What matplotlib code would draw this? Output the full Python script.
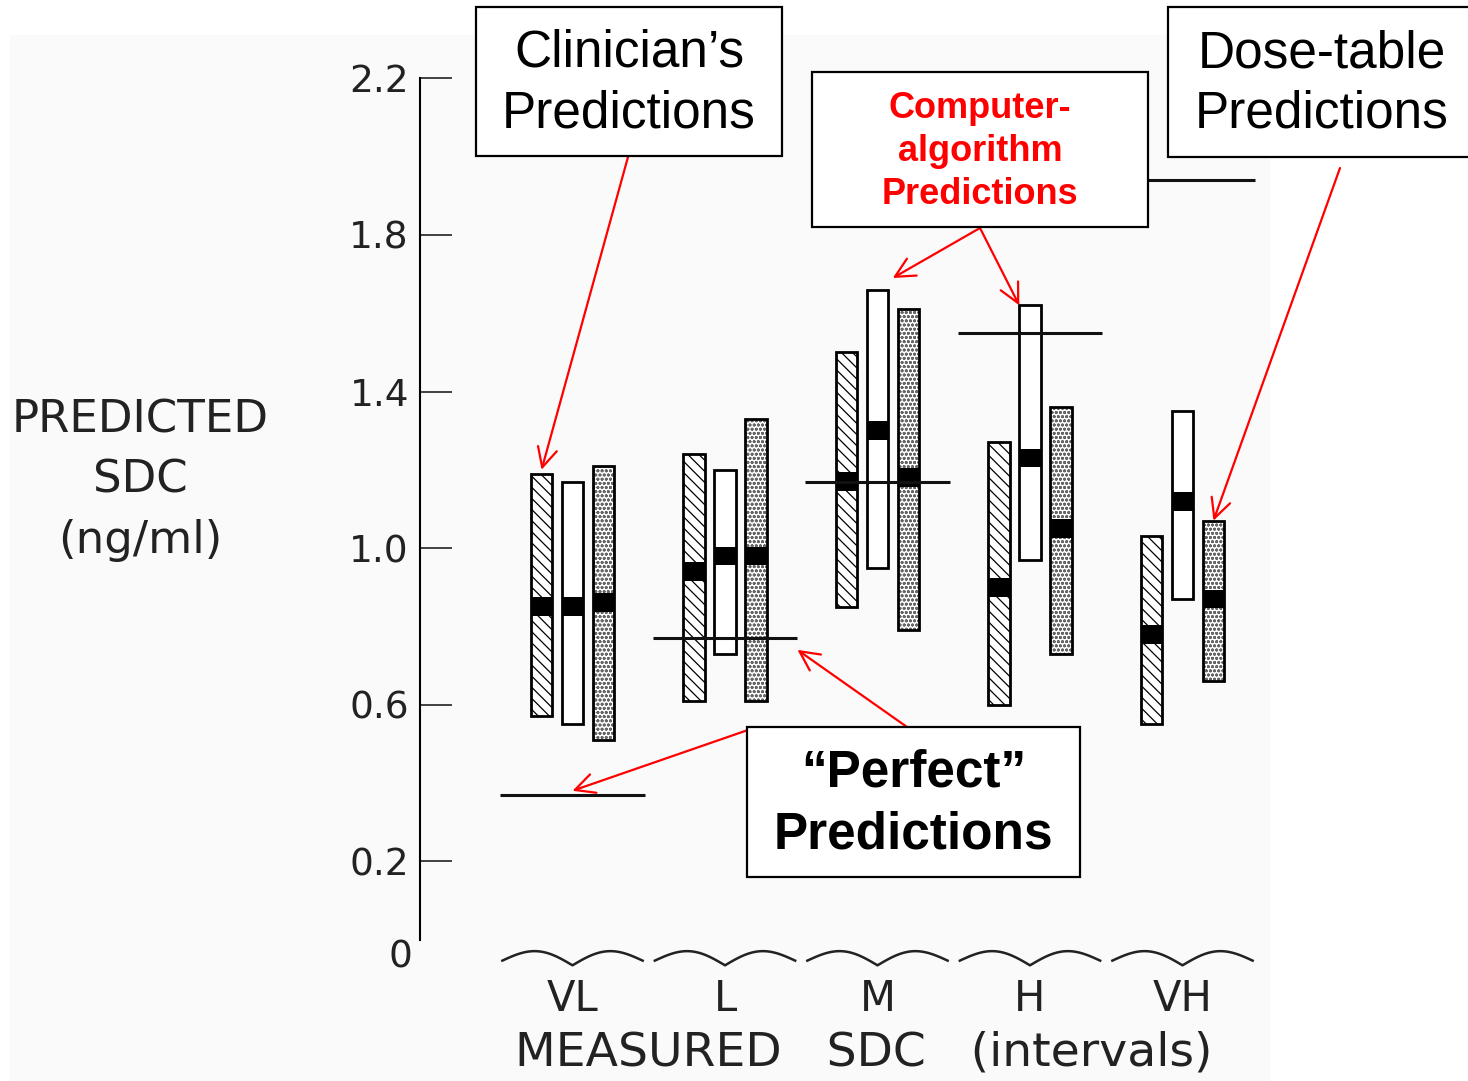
import numpy as np
import matplotlib.pyplot as plt
from matplotlib.patches import Rectangle

groups = ['VL', 'L', 'M', 'H', 'VH']

# clinician's predictions (hatched bars)
clin_low = [0.57, 0.61, 0.85, 0.60, 0.55]
clin_high = [1.19, 1.24, 1.50, 1.27, 1.03]
clin_mid = [0.85, 0.94, 1.17, 0.90, 0.78]

# computer-algorithm predictions (open bars)
comp_low = [0.55, 0.73, 0.95, 0.97, 0.87]
comp_high = [1.17, 1.20, 1.66, 1.62, 1.35]
comp_mid = [0.85, 0.98, 1.30, 1.23, 1.12]

# dose-table predictions (dotted bars)
dose_low = [0.51, 0.61, 0.79, 0.73, 0.66]
dose_high = [1.21, 1.33, 1.61, 1.36, 1.07]
dose_mid = [0.86, 0.98, 1.18, 1.05, 0.87]

# "perfect" prediction level for each measured interval
perfect = [0.37, 0.77, 1.17, 1.55, 1.94]

yticks = [0.2, 0.6, 1.0, 1.4, 1.8, 2.2]

W, H = 1468, 1081
plt.rcParams['hatch.linewidth'] = 0.9
fig = plt.figure(figsize=(W / 100, H / 100), dpi=100)


def fx(px):
    return px / W


def fy(py):
    return 1 - py / H


# faint tint of the scanned page
fig.patches.append(Rectangle((fx(10), 0), fx(1270) - fx(10), fy(35), transform=fig.transFigure,
                             facecolor='#fafafa', edgecolor='none', zorder=-10))

ax = fig.add_axes([fx(420), fy(939.5), 854 / W, 861.1 / H])
ax.set_facecolor('none')
ax.set_xlim(-1, 4.6)
ax.set_ylim(0, 2.2)

x = np.arange(len(groups))
off = 0.203
bw = 0.14
band = 0.048

lo, hi = np.array(clin_low), np.array(clin_high)
ax.bar(x - off, hi - lo, bw, bottom=lo, facecolor='white', edgecolor='black',
       hatch='\\\\\\', linewidth=2.0, zorder=2)
ax.bar(x - off, band, bw, bottom=np.array(clin_mid) - band / 2, color='black', zorder=3)

lo, hi = np.array(comp_low), np.array(comp_high)
ax.bar(x, hi - lo, bw, bottom=lo, facecolor='white', edgecolor='black', linewidth=2.0, zorder=2)
ax.bar(x, band, bw, bottom=np.array(comp_mid) - band / 2, color='black', zorder=3)

lo, hi = np.array(dose_low), np.array(dose_high)
ax.bar(x + off, hi - lo, bw, bottom=lo, facecolor='white', edgecolor='#666666',
       hatch='oooo', linewidth=0, zorder=2)
ax.bar(x + off, hi - lo, bw, bottom=lo, fill=False, edgecolor='black', linewidth=2.0, zorder=3)
ax.bar(x + off, band, bw, bottom=np.array(dose_mid) - band / 2, color='black', zorder=3)

ax.hlines(perfect, x - 0.475, x + 0.475, color='#111111', lw=2.2, zorder=4)

# wavy braces under each interval
u = np.linspace(-1, 1, 121)
brace = -0.066 + 0.030 * np.sin(np.pi * np.abs(u)) + 0.012 * np.abs(u)
for xi in x:
    ax.plot(xi + 0.46 * u, brace, color='#222222', lw=1.8, clip_on=False)

for s in ['top', 'right', 'bottom']:
    ax.spines[s].set_visible(False)
ax.spines['left'].set_linewidth(1.5)
ax.spines['left'].set_bounds(0, 2.2)

ax.set_yticks(yticks)
ax.set_yticklabels([f'{t:.1f}' for t in yticks])
ax.tick_params(axis='y', direction='in', length=23, width=1.2, pad=8, labelsize=27, colors='#222222')
ax.text(-0.0234, 0, '0', transform=ax.get_yaxis_transform(), ha='center', va='top',
        fontsize=27, color='#222222')

ax.set_xticks(x, groups)
ax.tick_params(axis='x', length=0, pad=28, labelsize=30, labelcolor='#222222')

ax.set_xlabel('MEASURED   SDC   (intervals)', fontsize=34, color='#222222')
ax.xaxis.set_label_coords((864 - 420) / 854, -(1031 - 939.5) / 861.1)

ax.set_ylabel('PREDICTED\nSDC\n(ng/ml)', rotation=0, fontsize=32.5, linespacing=1.5,
              ha='center', va='center', color='#222222')
ax.yaxis.set_label_coords((140 - 420) / 854, (939.5 - 480) / 861.1)

# callout boxes (pixel layout of the slide)
boxes = [
    ('Clinician\u2019s\nPredictions', (476, 7, 782, 156), 'black', 'normal', 37, 1.3),
    ('Computer-\nalgorithm\nPredictions', (812, 72, 1148, 227), 'red', 'bold', 26, 1.3),
    ('Dose-table\nPredictions', (1168, 7, 1480, 157), 'black', 'normal', 37, 1.3),
    ('\u201cPerfect\u201d\nPredictions', (747, 727, 1080, 877), 'black', 'bold', 37, 1.33),
]
for label, (x0, y0, x1, y1), col, wt, size, ls in boxes:
    fig.patches.append(Rectangle((fx(x0), fy(y1)), fx(x1) - fx(x0), fy(y0) - fy(y1),
                                 transform=fig.transFigure, facecolor='white',
                                 edgecolor='black', linewidth=1.6, zorder=5))
    cx = (x0 + x1) / 2 if x1 < W else 1322
    fig.text(fx(cx), fy((y0 + y1) / 2 + 2), label, ha='center', va='center', color=col,
             fontweight=wt, fontsize=size, linespacing=ls, family='Liberation Sans', zorder=6)

arrows = [
    ((x[0] - off, clin_high[0] + 0.01), (628, 157)),
    ((x[2] + 0.1, comp_high[2] + 0.03), (980, 228)),
    ((x[3] - 0.07, comp_high[3]), (980, 228)),
    ((x[4] + off, dose_high[4]), (1340, 168)),
    ((x[0], perfect[0] + 0.01), (748, 730)),
    ((x[1] + 0.475, perfect[1] - 0.03), (907, 727)),
]
for tip, (px, py) in arrows:
    ax.annotate('', xy=tip, xycoords='data', xytext=(fx(px), fy(py)), textcoords='figure fraction',
                arrowprops=dict(arrowstyle='->,head_length=0.7,head_width=0.35', color='red',
                                lw=1.6, mutation_scale=20, shrinkA=0, shrinkB=0),
                annotation_clip=False, zorder=4)

fig.savefig('out.png', dpi=100)
